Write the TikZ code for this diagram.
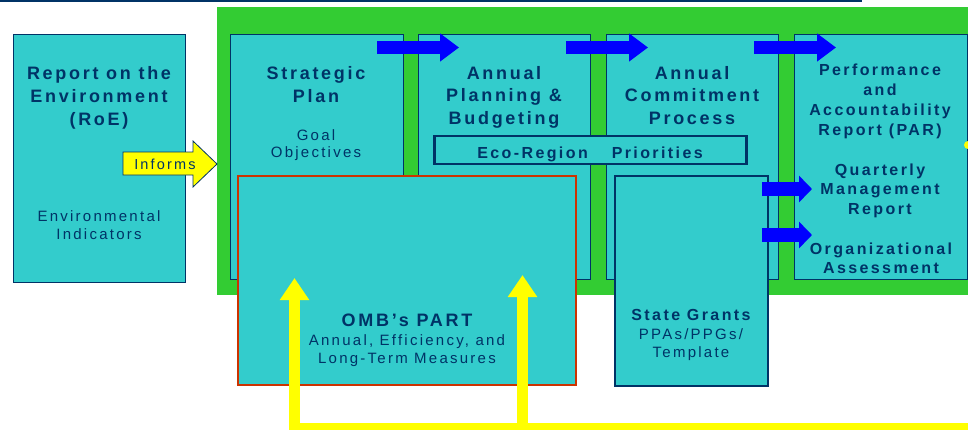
\documentclass[tikz,border=0pt]{standalone}
\usepackage{fontspec}
\setmainfont{Liberation Sans}
\newfontfamily\wide[LetterSpace=15]{Liberation Sans}
\usetikzlibrary{arrows.meta}
\definecolor{cyanfill}{HTML}{33CCCC}
\definecolor{greenbg}{HTML}{33CC33}
\definecolor{navy}{HTML}{003366}
\definecolor{bluearr}{HTML}{0000FF}
\definecolor{yel}{HTML}{FFFF00}
\definecolor{redb}{HTML}{CC3300}
\begin{document}
\begin{tikzpicture}[x=1pt,y=-1pt,
  rectbox/.style={draw=navy,line width=1pt,fill=cyanfill,inner sep=0pt,outer sep=0pt,anchor=north west},
  ttl/.style={text=navy,align=center,anchor=base,inner sep=0pt,font=\wide\bfseries\fontsize{18}{23}\selectfont},
  ttlsm/.style={text=navy,align=center,anchor=base,inner sep=0pt,font=\wide\bfseries\fontsize{16}{20}\selectfont},
  subt/.style={text=navy,align=center,anchor=base,inner sep=0pt,font=\wide\fontsize{15}{18}\selectfont},
  bluearrow/.style={draw=bluearr,line width=13pt,-{Triangle[length=19pt,width=27pt]}},
  bluearrowsm/.style={draw=bluearr,line width=14pt,-{Triangle[length=13pt,width=26pt]}},
  yelarrow/.style={draw=yel,line width=10.5pt,line join=miter,-{Triangle[length=22pt,width=28pt]}}
]
\useasboundingbox (0,0) rectangle (968,429);
% top rule
\draw[navy,line width=1.5pt] (0,0.75) -- (862,0.75);
% green frame
\node[fill=greenbg,inner sep=0pt,outer sep=0pt,anchor=north west,minimum height=288pt,minimum width=760pt] (frame) at (216.5,7) {};
% left box
\node[rectbox,minimum width=172pt,minimum height=248pt] (roe) at (13,34) {};
% four process boxes
\node[rectbox,minimum width=173pt,minimum height=245pt] (sp) at (230,34) {};
\node[rectbox,minimum width=172pt,minimum height=245pt] (apb) at (418,34) {};
\node[rectbox,minimum width=172pt,minimum height=245pt] (acp) at (606,34) {};
\node[rectbox,minimum width=173pt,minimum height=245pt] (par) at (794,34) {};
% eco-region bar
\node[rectbox,line width=2.5pt,minimum width=312pt,minimum height=28pt] (eco) at (434.5,136) {};
% OMB and State Grants boxes
\node[rectbox,draw=redb,line width=2pt,minimum width=338pt,minimum height=209pt] (omb) at (238,176) {};
\node[rectbox,line width=2.5pt,minimum width=153pt,minimum height=210pt] (sg) at (615,176) {};

% texts (base anchor = baseline of the last line)
\node[ttl] (roet) at (99,125) {Report on the\\Environment\\(RoE)};
\node[subt,font=\wide\fontsize{15}{17.5}\selectfont] (roes) at (99,239) {Environmental\\Indicators};
\node[ttl] (spt) at (316,102) {Strategic\\Plan};
\node[subt,font=\wide\fontsize{15}{17.5}\selectfont] (sps) at (316,157.5) {Goal\\Objectives};
\node[ttl,font=\wide\bfseries\fontsize{18}{22.5}\selectfont] (apbt) at (504,124) {Annual\\Planning \&\\Budgeting};
\node[ttl,font=\wide\bfseries\fontsize{18}{22.5}\selectfont] (acpt) at (692,124) {Annual\\Commitment\\Process};
\node[ttlsm] (part) at (880,135) {Performance\\and\\Accountability\\Report (PAR)};
\node[ttlsm,font=\wide\bfseries\fontsize{16}{19.5}\selectfont] (qmr) at (880,214) {Quarterly\\Management\\Report};
\node[ttlsm,font=\wide\bfseries\fontsize{16}{19}\selectfont] (oa) at (881,273) {Organizational\\Assessment};
\node[ttlsm] (ecot) at (590,158) {Eco-Region\hspace{24pt}Priorities};
\node[ttl] (ombt) at (407,326) {OMB’s PART};
\node[subt] (ombs) at (407,363) {Annual, Efficiency, and\\Long-Term Measures};
\node[ttlsm] (sgt) at (691,320) {State Grants};
\node[subt] (sgs) at (691,357) {PPAs/PPGs/\\Template};

% informs arrow
\draw[draw=navy,line width=0.8pt,fill=yel,line join=miter]
  (123,152) -- (193,152) -- (193,141) -- (217,164) -- (193,187) -- (193,175) -- (123,175) -- cycle;
\node[text=navy,anchor=base,inner sep=0pt,font=\wide\fontsize{14.5}{17}\selectfont] (inf) at (165,169) {Informs};

% blue connector arrows
\coordinate (b1s) at (377,47.5); \coordinate (b1e) at (459,47.5);
\coordinate (b2s) at (566,47.5); \coordinate (b2e) at (648,47.5);
\coordinate (b3s) at (754,47.5); \coordinate (b3e) at (836,47.5);
\coordinate (b4s) at (762,189); \coordinate (b4e) at (812,189);
\coordinate (b5s) at (762,235); \coordinate (b5e) at (812,235);
\draw[bluearrow] (b1s) -- (b1e);
\draw[bluearrow] (b2s) -- (b2e);
\draw[bluearrow] (b3s) -- (b3e);
\draw[bluearrowsm] (b4s) -- (b4e);
\draw[bluearrowsm] (b5s) -- (b5e);

% yellow feedback arrows
\coordinate (yr) at (980,428.5);
\coordinate (yc1) at (294.5,428.5);
\coordinate (yt1) at (294.5,278);
\coordinate (yc2) at (522.5,428.5);
\coordinate (yt2) at (522.5,275);
\draw[yelarrow] (yr) -- (yc1) -- (yt1);
\draw[yelarrow] (yc2) -- (yt2);
\fill[yel] (968,145) circle (4pt);
\end{tikzpicture}
\end{document}
